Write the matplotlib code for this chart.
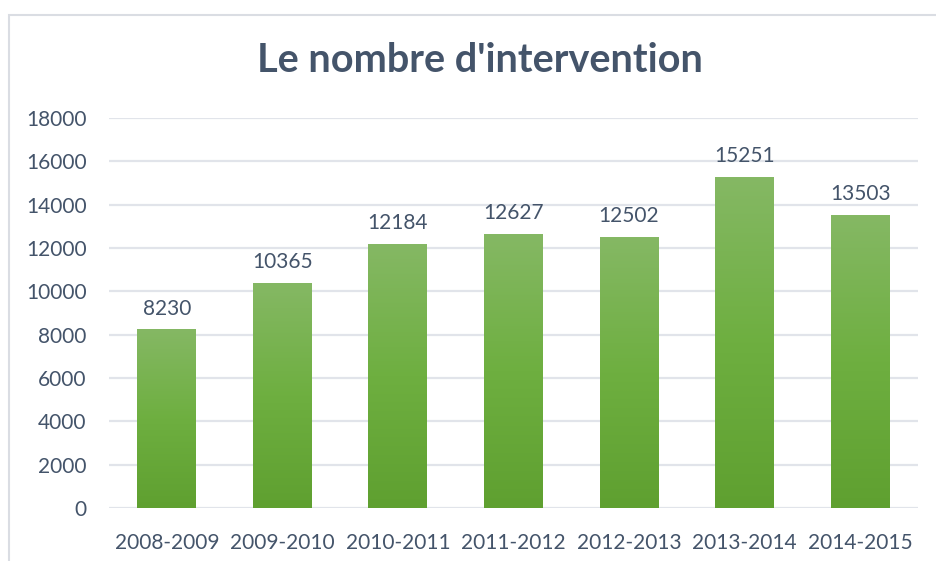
import numpy as np
import matplotlib
matplotlib.use("Agg")
import matplotlib.pyplot as plt
from matplotlib.colors import LinearSegmentedColormap
from matplotlib.patches import Rectangle

periods = ["2008-2009", "2009-2010", "2010-2011", "2011-2012",
           "2012-2013", "2013-2014", "2014-2015"]
interventions = [8230, 10365, 12184, 12627, 12502, 15251, 13503]
yticks = [0, 2000, 4000, 6000, 8000, 10000, 12000, 14000, 16000, 18000]

text_color = "#44546A"
grid_color = "#E1E4EA"
plt.rcParams["font.family"] = ["Lato", "DejaVu Sans"]

fig = plt.figure(figsize=(9.36, 5.61), dpi=100)
ax = fig.add_axes([109 / 936, 1 - 508 / 561, (918 - 109) / 936, (508 - 118) / 561])

x = np.arange(len(periods))
bars = ax.bar(x, interventions, width=0.51, color="none", zorder=2)

# vertical gradient inside each bar, lighter at the top
green = LinearSegmentedColormap.from_list("g", ["#5FA030", "#6EAF40", "#85B864"])
grad = np.linspace(0, 1, 256).reshape(-1, 1)
for b in bars:
    x0, w, h = b.get_x(), b.get_width(), b.get_height()
    ax.imshow(grad, cmap=green, origin="lower", aspect="auto",
              extent=(x0, x0 + w, 0, h), zorder=2)

for b, v in zip(bars, interventions):
    ax.annotate(str(v), (b.get_x() + b.get_width() / 2, v),
                xytext=(0, 8), textcoords="offset points",
                ha="center", va="bottom", fontsize=15, color=text_color)

ax.set_xlim(-0.5, len(periods) - 0.5)
ax.set_ylim(0, 18000)
ax.set_yticks(yticks)
ax.set_xticks(x)
ax.set_xticklabels(periods)
ax.grid(axis="y", color=grid_color, linewidth=1.6, zorder=0)
ax.set_axisbelow(True)
for s in ax.spines.values():
    s.set_visible(False)
ax.tick_params(length=0, labelsize=15, labelcolor=text_color)
ax.tick_params(axis="y", pad=16)
ax.tick_params(axis="x", pad=18)

fig.text(480 / 936, 1 - 61 / 561, "Le nombre d'intervention",
         ha="center", va="center", fontsize=28.5, fontweight="bold", color=text_color)

fig.patches.append(Rectangle((9 / 936, -0.1), 1.2, 1.1 - 15 / 561,
                             transform=fig.transFigure, fill=False,
                             edgecolor="#DADDE3", linewidth=1.5))

fig.savefig("out.png", dpi=100)
